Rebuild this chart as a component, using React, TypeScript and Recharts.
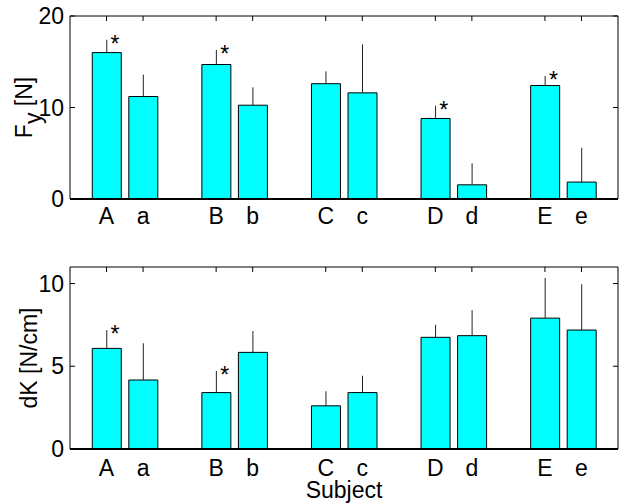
import React from 'react';
import { ComposedChart, Bar, ErrorBar, Scatter, XAxis, YAxis } from 'recharts';

const upperNames = ['A', 'B', 'C', 'D', 'E'];
const lowerNames = ['a', 'b', 'c', 'd', 'e'];

// top panel: Fy [N]
const fyUpper = [16.0, 14.7, 12.6, 8.8, 12.4];
const fyUpperErr = [1.4, 1.6, 1.35, 1.4, 1.05];
const fyLower = [11.2, 10.25, 11.6, 1.55, 1.85];
const fyLowerErr = [2.4, 1.95, 5.3, 2.35, 3.75];
const fyStars = ['A', 'B', 'D', 'E'];
const fyTicks = [0, 10, 20];

// bottom panel: dK [N/cm]
const dkUpper = [6.08, 3.41, 2.61, 6.75, 7.91];
const dkUpperErr = [1.11, 1.31, 0.88, 0.76, 2.43];
const dkLower = [4.17, 5.84, 3.41, 6.85, 7.19];
const dkLowerErr = [2.22, 1.29, 1.02, 1.54, 2.77];
const dkStars = ['A', 'B'];
const dkTicks = [0, 5, 10];

const FONT = '"Liberation Sans", Arial, Helvetica, sans-serif';
const FS = 23;

type Row = { x: number; name: string; value: number; err: [number, number] };

function buildRows(up: number[], upErr: number[], lo: number[], loErr: number[]): Row[] {
  const rows: Row[] = [];
  upperNames.forEach((n, i) => {
    rows.push({ x: i + 1 - 1 / 6, name: n, value: up[i], err: [0, upErr[i]] });
    rows.push({ x: i + 1 + 1 / 6, name: lowerNames[i], value: lo[i], err: [0, loErr[i]] });
  });
  return rows;
}

const StarShape = (props: any) => (
  <text x={props.cx + 8.5} y={props.cy + 12} textAnchor="middle" fontSize={FS} fontFamily={FONT} fill="#000">
    *
  </text>
);

const fyLabel = (props: any) => {
  const vb = props.viewBox || { y: 16, height: 183 };
  const cx = 32;
  const cy = vb.y + vb.height / 2;
  return (
    <text x={cx} y={cy} transform={`rotate(-90 ${cx} ${cy})`} textAnchor="middle" fontSize={FS} fontFamily={FONT} fill="#000">
      F<tspan dy={9}>y</tspan>
      <tspan dy={-9}> [N]</tspan>
    </text>
  );
};

const dkLabel = (props: any) => {
  const vb = props.viewBox || { y: 37, height: 182 };
  const cx = 37;
  const cy = vb.y + vb.height / 2;
  return (
    <text x={cx} y={cy} transform={`rotate(-90 ${cx} ${cy})`} textAnchor="middle" fontSize={FS} fontFamily={FONT} fill="#000">
      dK [N/cm]
    </text>
  );
};

interface PanelProps {
  rows: Row[];
  stars: string[];
  yMax: number;
  yTicks: number[];
  height: number;
  topH: number;
  bottomH: number;
  labelGap: number;
  yLabel: (p: any) => React.ReactElement;
  subject?: boolean;
}

function Panel({ rows, stars, yMax, yTicks, height, topH, bottomH, labelGap, yLabel, subject }: PanelProps) {
  const xs = rows.map((r) => r.x);
  const starPts = rows.filter((r) => stars.includes(r.name)).map((r) => ({ x: r.x, top: r.value + r.err[1] }));
  const nameOf = (v: number) => rows.find((r) => Math.abs(r.x - v) < 1e-6)?.name ?? '';
  return (
    <ComposedChart width={619} height={height} data={rows} margin={{ top: 0, right: 0, bottom: 0, left: 0 }}>
      <XAxis
        xAxisId="top"
        orientation="top"
        type="number"
        dataKey="x"
        domain={[0.5, 5.5]}
        allowDataOverflow
        ticks={xs}
        interval={0}
        height={topH}
        tickSize={-5}
        tickFormatter={() => ''}
        axisLine={{ stroke: '#000' }}
        tickLine={{ stroke: '#000' }}
      />
      <XAxis
        type="number"
        dataKey="x"
        domain={[0.5, 5.5]}
        allowDataOverflow
        ticks={xs}
        interval={0}
        height={bottomH}
        tickLine={false}
        tickSize={0}
        tickMargin={labelGap}
        tickFormatter={nameOf}
        tick={{ fill: '#000', fontSize: FS, fontFamily: FONT }}
        axisLine={{ stroke: '#000', strokeWidth: 2 }}
        label={subject ? { value: 'Subject', position: 'insideBottom', offset: 6, fill: '#000', fontSize: FS, fontFamily: FONT } : undefined}
      />
      <YAxis
        type="number"
        domain={[0, yMax]}
        allowDataOverflow
        ticks={yTicks}
        interval={0}
        width={70}
        tickSize={-5}
        tickMargin={11}
        tick={{ fill: '#000', fontSize: FS, fontFamily: FONT }}
        axisLine={{ stroke: '#000' }}
        tickLine={{ stroke: '#000' }}
        label={yLabel}
      />
      <YAxis
        yAxisId="r"
        orientation="right"
        type="number"
        domain={[0, yMax]}
        allowDataOverflow
        ticks={yTicks}
        interval={0}
        width={1}
        tickSize={-5}
        tickFormatter={() => ''}
        axisLine={{ stroke: '#000' }}
        tickLine={{ stroke: '#000' }}
      />
      <Bar dataKey="value" fill="#00ffff" stroke="#000" strokeWidth={1} barSize={29} isAnimationActive={false}>
        <ErrorBar dataKey="err" direction="y" width={0} stroke="#222" strokeWidth={1} isAnimationActive={false} />
      </Bar>
      <Scatter data={starPts} dataKey="top" shape={StarShape} isAnimationActive={false} />
    </ComposedChart>
  );
}

export default function App() {
  const fyRows = buildRows(fyUpper, fyUpperErr, fyLower, fyLowerErr);
  const dkRows = buildRows(dkUpper, dkUpperErr, dkLower, dkLowerErr);
  return (
    <div style={{ position: 'absolute', left: 0, top: 0, width: 619, height: 504, background: '#fff', fontFamily: FONT }}>
      <div style={{ position: 'absolute', left: 0, top: 0 }}>
        <Panel rows={fyRows} stars={fyStars} yMax={20} yTicks={fyTicks} height={229} topH={16} bottomH={30} labelGap={9} yLabel={fyLabel} />
      </div>
      <div style={{ position: 'absolute', left: 0, top: 230 }}>
        <Panel rows={dkRows} stars={dkStars} yMax={11} yTicks={dkTicks} height={274} topH={37} bottomH={55} labelGap={11} yLabel={dkLabel} subject />
      </div>
    </div>
  );
}
